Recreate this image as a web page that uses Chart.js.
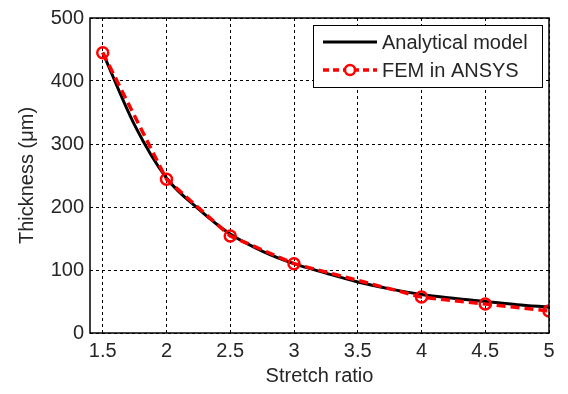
<!DOCTYPE html>
<html><head><meta charset="utf-8">
<script src="https://cdn.jsdelivr.net/npm/chart.js@4/dist/chart.umd.min.js"></script>
<style>html,body{margin:0;padding:0;background:#fff}#wrap{width:568px;height:394px}</style>
</head><body><div id="wrap"><canvas id="c" width="568" height="394"></canvas></div>
<script>
const analyticalX = [1.5,1.75,2,2.25,2.5,2.75,3,3.25,3.5,3.75,4,4.25,4.5,4.75,5];
const analyticalY = [445,330,246,197,157,130,110,95,81,70,61,55,50,45,41];
const femX = [1.5,2,2.5,3,4,4.5,5];
const femY = [445,244,154,110,57,46,35];
const xTicks = [1.5,2,2.5,3,3.5,4,4.5,5];
const yTicks = [0,100,200,300,400,500];
const seriesNames = ['Analytical model','FEM in ANSYS'];
const FONT = 'Liberation Sans, Arial, sans-serif';
const TXT = '#262626';
const FS = 20;

const boxPlugin = {
  id:'box',
  afterDatasetsDraw(chart){
    const {ctx, chartArea:a} = chart;
    ctx.save();
    ctx.strokeStyle='#000'; ctx.lineWidth=1.5; ctx.setLineDash([]);
    ctx.strokeRect(a.left, a.top, a.right-a.left, a.bottom-a.top);
    ctx.restore();
  },
  afterDraw(chart){
    const {ctx, chartArea:a} = chart;
    const ds = chart.data.datasets;
    const bx = 313, by = 25, bw = 229, bh = 62;
    ctx.save();
    ctx.fillStyle='#fff'; ctx.fillRect(bx,by,bw,bh);
    ctx.strokeStyle='#000'; ctx.lineWidth=1; ctx.strokeRect(bx+0.5,by+0.5,bw,bh);
    const lx0 = bx+10, lx1 = bx+64, tx = bx+69;
    const rows=[by+17, by+45];
    ctx.font=FS+'px '+FONT; ctx.fillStyle=TXT; ctx.textBaseline='middle';
    ctx.strokeStyle=ds[0].borderColor; ctx.lineWidth=ds[0].borderWidth; ctx.setLineDash([]);
    ctx.beginPath(); ctx.moveTo(lx0,rows[0]); ctx.lineTo(lx1,rows[0]); ctx.stroke();
    ctx.fillText(ds[0].label, tx, rows[0]+1);
    ctx.strokeStyle=ds[1].borderColor; ctx.lineWidth=ds[1].borderWidth; ctx.setLineDash([6,4]);
    ctx.beginPath(); ctx.moveTo(lx0,rows[1]); ctx.lineTo(lx1,rows[1]); ctx.stroke();
    ctx.setLineDash([]); ctx.lineWidth=ds[1].pointBorderWidth;
    ctx.beginPath(); ctx.arc((lx0+lx1)/2, rows[1], 5, 0, Math.PI*2); ctx.fillStyle='#fff'; ctx.fill(); ctx.stroke();
    ctx.fillStyle=TXT;
    ctx.fillText(ds[1].label, tx, rows[1]+1);
    ctx.restore();
  }
};

new Chart(document.getElementById('c'), {
  type:'line',
  data:{datasets:[
    {label:seriesNames[0], data:analyticalX.map((x,i)=>({x,y:analyticalY[i]})), borderColor:'#000', borderWidth:3, pointRadius:0, tension:0.4, cubicInterpolationMode:'monotone', order:2},
    {label:seriesNames[1], data:femX.map((x,i)=>({x,y:femY[i]})), borderColor:'#ff0000', borderWidth:3.5, borderDash:[9,5], pointRadius:5.5, pointBorderWidth:2.5, pointBorderColor:'#ff0000', pointBackgroundColor:'rgba(255,255,255,0)', tension:0, order:1}
  ]},
  options:{
    responsive:false, animation:false, devicePixelRatio:1,
    layout:{padding:{top:15,right:19,left:0,bottom:0}},
    plugins:{legend:{display:false}, tooltip:{enabled:false}},
    scales:{
      x:{type:'linear', min:1.4, max:5,
        afterBuildTicks(s){ s.ticks = xTicks.map(v=>({value:v})); },
        afterFit(s){ s.height = 61; },
        grid:{color:'#000', lineWidth:1, drawTicks:false},
        border:{display:false, dash:[3,3]},
        ticks:{padding:6, color:TXT, font:{family:FONT,size:FS}, maxRotation:0, callback:v=>String(v)},
        title:{display:true, text:'Stretch ratio', color:TXT, font:{family:FONT,size:FS}, padding:{top:6,bottom:6}}
      },
      y:{type:'linear', min:0, max:500,
        afterBuildTicks(s){ s.ticks = yTicks.map(v=>({value:v})); },
        afterFit(s){ s.width = 90; },
        grid:{color:'#000', lineWidth:1, drawTicks:false},
        border:{display:false, dash:[3,3]},
        ticks:{padding:6, color:TXT, font:{family:FONT,size:FS}, callback:v=>String(v)},
        title:{display:true, text:'Thickness (μm)', color:TXT, font:{family:FONT,size:FS}, padding:{top:15,bottom:15}}
      }
    }
  },
  plugins:[boxPlugin]
});
</script></body></html>
